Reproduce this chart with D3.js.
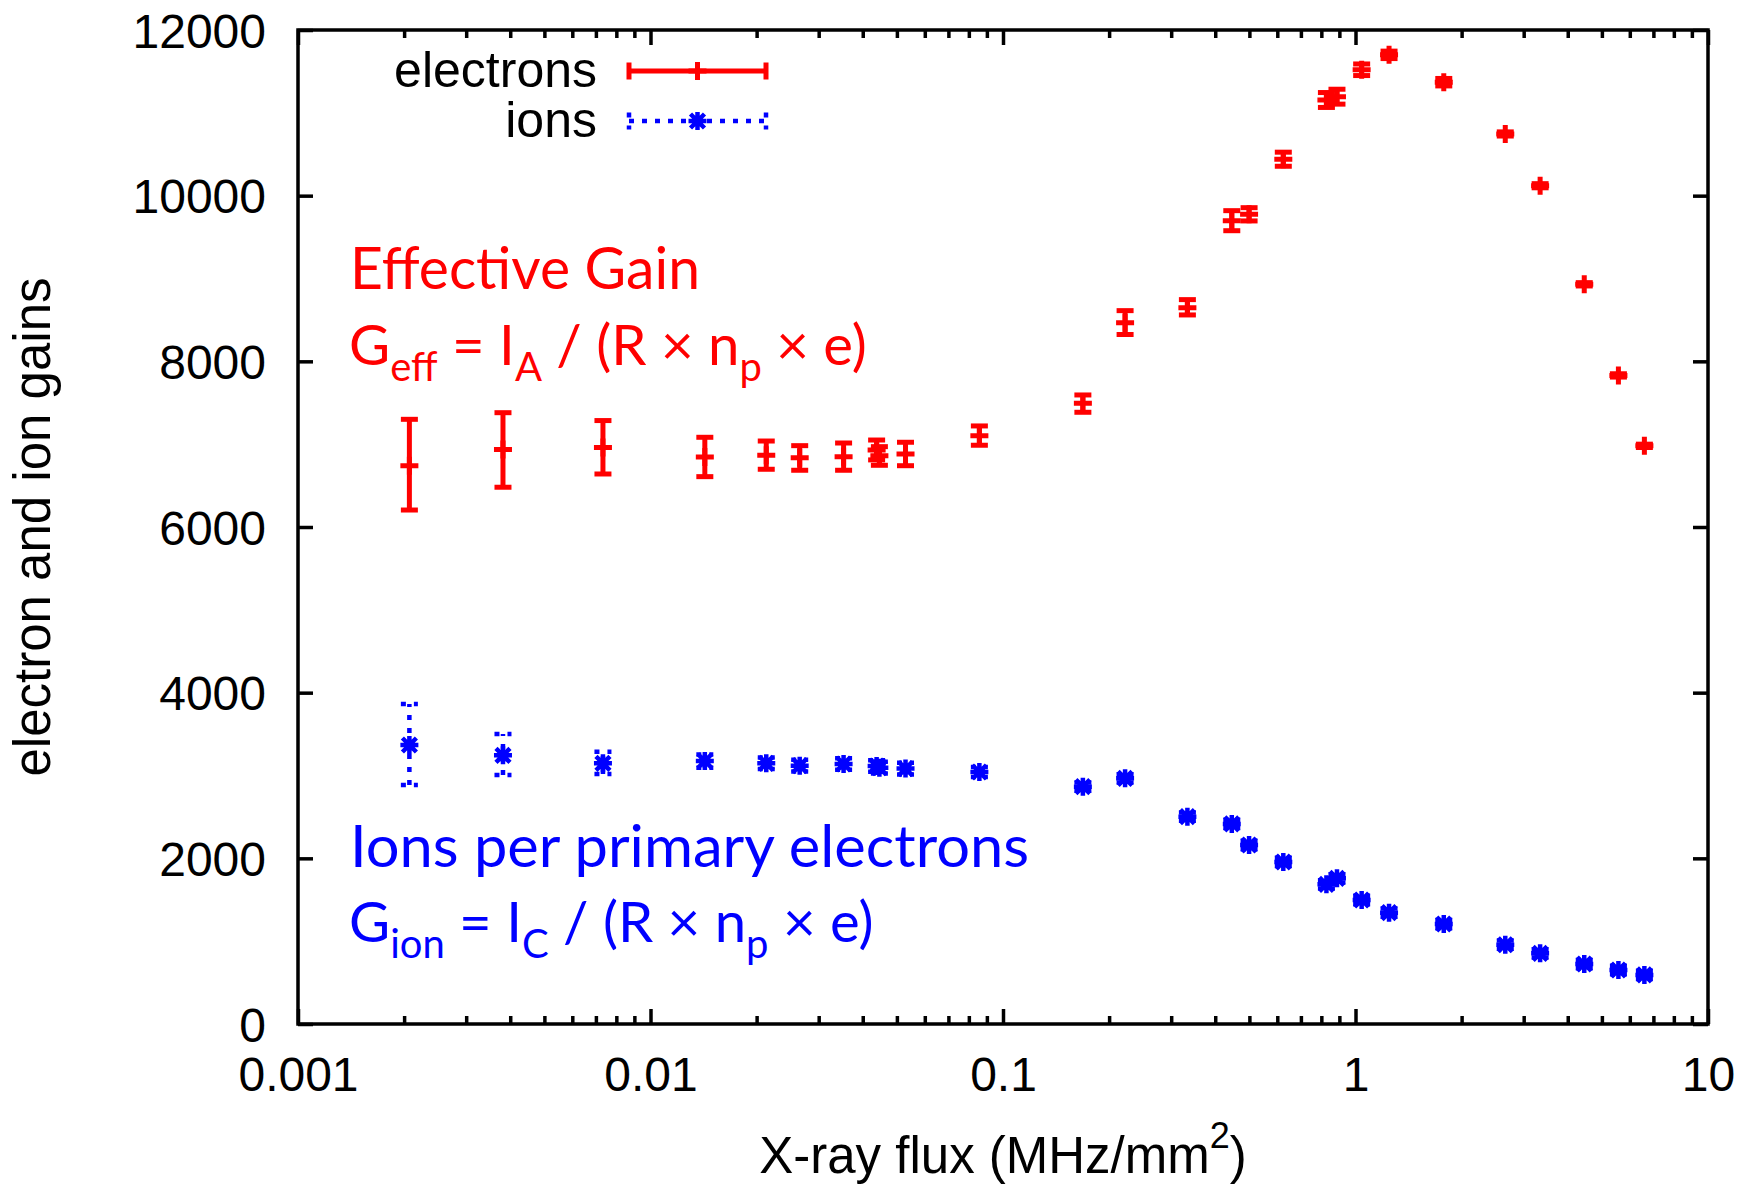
<!DOCTYPE html>
<html><head><meta charset="utf-8">
<script src="https://cdn.jsdelivr.net/npm/d3@7"></script>
<style>body{margin:0;background:#fff} svg{display:block}</style>
</head><body>
<svg id="c" width="1759" height="1184"></svg>
<script>
// ---- data ----
const flux = [0.00207, 0.003815, 0.00733, 0.01426, 0.0213, 0.0265, 0.0353, 0.0438, 0.0446, 0.0529, 0.0857,
  0.1685, 0.222, 0.3335, 0.4457, 0.499, 0.624, 0.827, 0.886, 1.041, 1.245, 1.78, 2.66, 3.34, 4.456, 5.57, 6.6];
const elecGain = [6740, 6935, 6960, 6845, 6866, 6837, 6849, 6930, 6860, 6882, 7103,
  7494, 8467, 8648, 9698, 9775, 10440, 11155, 11195, 11520, 11700, 11370, 10745, 10120, 8930, 7830, 6980];
const elecLow = [6205, 6480, 6640, 6608, 6697, 6685, 6685, 6810, 6745, 6740, 6987,
  7385, 8324, 8560, 9577, 9695, 10355, 11065, 11105, 11450, 11655, 11325, 10720, 10095, 8910, 7810, 6960];
const elecHigh = [7300, 7380, 7285, 7083, 7038, 6982, 7014, 7050, 6970, 7023, 7220,
  7594, 8612, 8745, 9819, 9855, 10525, 11245, 11285, 11590, 11745, 11415, 10770, 10145, 8950, 7850, 7000];
const ionGain = [3368, 3244, 3147, 3175, 3147, 3119, 3139, 3115, 3095, 3083, 3042,
  2865, 2966, 2503, 2415, 2161, 1956, 1686, 1759, 1497, 1344, 1207, 957, 853, 724, 652, 592];
const ionLow = [2885, 3006, 3018, 3095, 3077, 3049, 3069, 3045, 3025, 3013, 2982,
  2815, 2916, 2453, 2365, 2111, 1906, 1636, 1709, 1447, 1294, 1157, 907, 803, 674, 602, 542];
const ionHigh = [3863, 3501, 3288, 3255, 3217, 3189, 3209, 3185, 3165, 3153, 3102,
  2915, 3016, 2553, 2465, 2211, 2006, 1736, 1809, 1547, 1394, 1257, 1007, 903, 774, 702, 642];
const xTicks = [0.001, 0.01, 0.1, 1, 10];
const xTickLabels = ["0.001", "0.01", "0.1", "1", "10"];
const yTicks = [0, 2000, 4000, 6000, 8000, 10000, 12000];
const yTickLabels = ["0", "2000", "4000", "6000", "8000", "10000", "12000"];
const seriesNames = ["electrons", "ions"];

// ---- layout ----
const W = 1759, H = 1184;
const M = {left: 298, right: 1708, top: 30, bottom: 1024};
const RED = "#ff0000", BLUE = "#0000ff";
const SANS = "Liberation Sans, Arial, sans-serif";
const svg = d3.select("#c");
svg.append("rect").attr("width", W).attr("height", H).attr("fill", "#fff");

const x = d3.scaleLog().domain([0.001, 10]).range([M.left, M.right]);
const y = d3.scaleLinear().domain([0, 12000]).range([M.bottom, M.top]);

const minors = [];
[0.001, 0.01, 0.1, 1].forEach(d => { for (let k = 2; k <= 9; k++) minors.push(d * k); });

function styleAxis(g) {
  g.select(".domain").remove();
  g.selectAll(".tick line").attr("stroke", "#000").attr("stroke-width", 3.5);
  g.selectAll(".tick text").attr("fill", "#000").attr("font-family", SANS).attr("font-size", 48);
}
// bottom
svg.append("g").attr("transform", `translate(0,${M.bottom})`)
  .call(d3.axisBottom(x).tickValues(xTicks).tickFormat((d, i) => xTickLabels[i]).tickSize(-15).tickPadding(0))
  .call(styleAxis)
  .call(g => g.selectAll(".tick text").attr("y", 67).attr("dy", 0));
svg.append("g").attr("transform", `translate(0,${M.bottom})`)
  .call(d3.axisBottom(x).tickValues(minors).tickFormat("").tickSize(-8)).call(styleAxis);
// top
svg.append("g").attr("transform", `translate(0,${M.top})`)
  .call(d3.axisTop(x).tickValues(xTicks).tickFormat("").tickSize(-15)).call(styleAxis);
svg.append("g").attr("transform", `translate(0,${M.top})`)
  .call(d3.axisTop(x).tickValues(minors).tickFormat("").tickSize(-8)).call(styleAxis);
// left
svg.append("g").attr("transform", `translate(${M.left},0)`)
  .call(d3.axisLeft(y).tickValues(yTicks).tickFormat((d, i) => yTickLabels[i]).tickSize(-15).tickPadding(32))
  .call(styleAxis)
  .call(g => g.selectAll(".tick text").attr("dy", "0.36em"));
// right
svg.append("g").attr("transform", `translate(${M.right},0)`)
  .call(d3.axisRight(y).tickValues(yTicks).tickFormat("").tickSize(-15)).call(styleAxis);

// frame
svg.append("rect").attr("x", M.left).attr("y", M.top)
  .attr("width", M.right - M.left).attr("height", M.bottom - M.top)
  .attr("fill", "none").attr("stroke", "#000").attr("stroke-width", 3.5);

// axis titles
svg.append("text").attr("transform", "translate(50,527) rotate(-90)")
  .attr("text-anchor", "middle").attr("font-family", SANS)
  .attr("font-size", 51).attr("fill", "#000").text("electron and ion gains");
const xl = svg.append("text").attr("x", 1003).attr("y", 1173)
  .attr("text-anchor", "middle").attr("font-family", SANS)
  .attr("font-size", 51).attr("fill", "#000");
xl.append("tspan").text("X-ray flux (MHz/mm");
xl.append("tspan").attr("dy", -25).attr("font-size", 36).text("2");
xl.append("tspan").attr("dy", 25).text(")");

// ---- marks ----
const CAP = 8.5;
const plusPath = "M-9,0H9M0,-9V9";
const starPath = "M-9,0H9M0,-9V9M-7,-7L7,7M-7,7L7,-7";

function drawSeries(vals, lows, highs, color, dash, marker, sw) {
  const g = svg.append("g");
  const idx = d3.range(flux.length);
  const eb = g.selectAll("g.eb").data(idx).join("g").attr("class", "eb")
    .attr("stroke", color).attr("stroke-width", sw).attr("fill", "none")
    .attr("stroke-dasharray", dash);
  eb.append("line").attr("x1", i => x(flux[i])).attr("x2", i => x(flux[i]))
    .attr("y1", i => y(lows[i])).attr("y2", i => y(highs[i]));
  eb.append("line").attr("x1", i => x(flux[i]) - CAP).attr("x2", i => x(flux[i]) + CAP)
    .attr("y1", i => y(lows[i])).attr("y2", i => y(lows[i]));
  eb.append("line").attr("x1", i => x(flux[i]) - CAP).attr("x2", i => x(flux[i]) + CAP)
    .attr("y1", i => y(highs[i])).attr("y2", i => y(highs[i]));
  g.selectAll("path.pt").data(idx).join("path").attr("class", "pt")
    .attr("d", marker).attr("transform", i => `translate(${x(flux[i])},${y(vals[i])})`)
    .attr("stroke", color).attr("stroke-width", sw).attr("fill", "none");
}
drawSeries(elecGain, elecLow, elecHigh, RED, null, plusPath, 5);
drawSeries(ionGain, ionLow, ionHigh, BLUE, "5,8", starPath, 4.5);

// ---- legend ----
const lg = svg.append("g").attr("font-family", SANS).attr("font-size", 50);
const legendRows = [
  {name: seriesNames[0], color: RED, dash: null, marker: plusPath, ly: 71, ty: 87, sw: 5},
  {name: seriesNames[1], color: BLUE, dash: "5,8", marker: starPath, ly: 121, ty: 137, sw: 4.5}
];
legendRows.forEach(r => {
  lg.append("text").attr("x", 597).attr("y", r.ty).attr("text-anchor", "end").attr("fill", "#000").text(r.name);
  const s = lg.append("g").attr("stroke", r.color).attr("stroke-width", r.sw).attr("fill", "none");
  s.append("line").attr("x1", 629).attr("x2", 766).attr("y1", r.ly).attr("y2", r.ly).attr("stroke-dasharray", r.dash);
  s.append("line").attr("x1", 629).attr("x2", 629).attr("y1", r.ly - CAP).attr("y2", r.ly + CAP).attr("stroke-dasharray", r.dash);
  s.append("line").attr("x1", 766).attr("x2", 766).attr("y1", r.ly - CAP).attr("y2", r.ly + CAP).attr("stroke-dasharray", r.dash);
  s.append("path").attr("d", r.marker).attr("transform", `translate(697.5,${r.ly})`);
});

// ---- annotations ----
function formula(xp, yp, color, parts, len, fs) {
  const t = svg.append("text").attr("x", xp).attr("y", yp).attr("fill", color)
    .attr("font-family", "Lato, 'Open Sans', sans-serif").attr("font-size", fs);
  if (len) t.attr("textLength", len).attr("lengthAdjust", "spacingAndGlyphs");
  let shifted = 0;
  parts.forEach(p => {
    const ts = t.append("tspan").text(p.t);
    if (p.sub) { ts.attr("dy", 16 - shifted).attr("font-size", fs * 0.71); shifted = 16; }
    else { if (shifted) ts.attr("dy", -shifted); shifted = 0; }
  });
  return t;
}
formula(350, 289, RED, [{t: "Effective Gain"}], 350, 57.5);
formula(349, 365, RED, [{t: "G"}, {t: "eff", sub: true}, {t: " = I"}, {t: "A", sub: true}, {t: " / (R × n"}, {t: "p", sub: true}, {t: " × e)"}], null, 56.3);
formula(350, 867, BLUE, [{t: "Ions per primary electrons"}], 679, 57.5);
formula(349, 942, BLUE, [{t: "G"}, {t: "ion", sub: true}, {t: " = I"}, {t: "C", sub: true}, {t: " / (R × n"}, {t: "p", sub: true}, {t: " × e)"}], null, 56.3);
</script>
</body></html>
